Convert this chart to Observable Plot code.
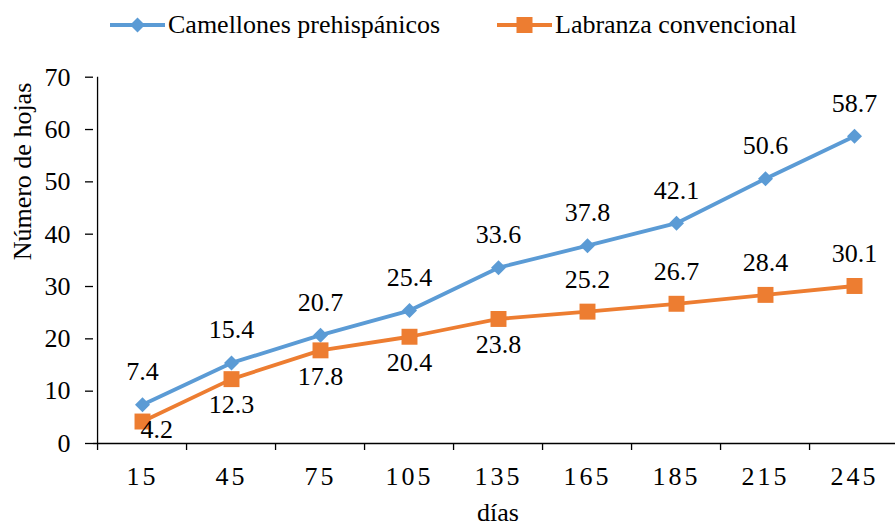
<!DOCTYPE html>
<html><head><meta charset="utf-8">
<script src="https://cdn.jsdelivr.net/npm/d3@7"></script>
<script src="https://cdn.jsdelivr.net/npm/@observablehq/plot@0.6"></script>
<style>
body{margin:0;background:#fff;font-family:"Liberation Serif","Times New Roman",serif;}
#legend{height:50px;position:relative;width:895px;}
.item{position:absolute;top:0;height:50px;display:flex;align-items:center;font-size:26px;color:#000;white-space:nowrap}
.item svg{display:block;margin-right:3px}
</style></head><body>
<div id="legend"></div><div id="chart"></div>
<script>
const days = ["15","45","75","105","135","165","185","215","245"];
const camellones = [7.4,15.4,20.7,25.4,33.6,37.8,42.1,50.6,58.7];
const labranza = [4.2,12.3,17.8,20.4,23.8,25.2,26.7,28.4,30.1];
const seriesNames = ["Camellones prehispánicos","Labranza convencional"];
const yTicks = [0,10,20,30,40,50,60,70];
const colors = ["#5B9BD5","#ED7D31"];
const symbols = ["diamond2","square"];
const xTitle = "días";
const yTitle = "Número de hojas";

// Legend
const legendPos = [110, 497];
const d3sym = {diamond2: d3.symbolDiamond2, square: d3.symbolSquare};
const symSize = {diamond2: 143, square: 256};
seriesNames.forEach((name,k)=>{
  const div = document.createElement("div");
  div.className = "item";
  div.style.left = legendPos[k] + "px";
  const path = d3.symbol(d3sym[symbols[k]], symSize[symbols[k]])();
  div.innerHTML = `<svg width="55" height="20"><line x1="0" x2="55" y1="10" y2="10" stroke="${colors[k]}" stroke-width="3.8"/><path transform="translate(27.5,10)" d="${path}" fill="${colors[k]}"/></svg><span>${name}</span>`;
  document.getElementById("legend").appendChild(div);
});

const rows = days.map((d,i)=>({day:d, i, cam:camellones[i], lab:labranza[i]}));
const W=895, H=475, L=93, T=26.7, B=82;
const step = (902-L)/days.length;
const font = '"Liberation Serif","Times New Roman",serif';

const chart = Plot.plot({
  width:W, height:H, marginLeft:L, marginRight:0, marginTop:T, marginBottom:B,
  style:{fontFamily:font, fontSize:"26px", color:"#000", background:"#fff", overflow:"visible"},
  x:{type:"point", domain:days, range:[L, L+step*days.length], padding:0.5},
  y:{domain:[0,70]},
  marks:[
    Plot.axisY({ticks:yTicks, tickSize:8, tickPadding:15, label:null, strokeWidth:1.3}),
    Plot.axisX({tickSize:0, tickPadding:23, label:null}),
    Plot.axisX({tickSize:7, tickFormat:()=>"", dx:-step/2, label:null, strokeWidth:1.3}),
    Plot.ruleY([0],{strokeWidth:1.3}),
    Plot.ruleX([days[0]],{dx:-step/2, strokeWidth:1.3}),
    Plot.line(rows,{x:"day", y:"cam", stroke:colors[0], strokeWidth:3.8}),
    Plot.line(rows,{x:"day", y:"lab", stroke:colors[1], strokeWidth:3.8}),
    Plot.dot(rows,{x:"day", y:"cam", symbol:symbols[0], r:6.75, fill:colors[0], stroke:null}),
    Plot.dot(rows,{x:"day", y:"lab", symbol:symbols[1], r:9, fill:colors[1], stroke:null}),
    Plot.text(rows,{x:"day", y:"cam", text:d=>d.cam.toFixed(1), dy:-33}),
    Plot.text(rows.filter(d=>d.i>=1 && d.i<=4),{x:"day", y:"lab", text:d=>d.lab.toFixed(1), dy:26}),
    Plot.text(rows.filter(d=>d.i>=5),{x:"day", y:"lab", text:d=>d.lab.toFixed(1), dy:-32}),
    Plot.text(rows.filter(d=>d.i===0),{x:"day", y:"lab", text:d=>d.lab.toFixed(1), textAnchor:"start", dx:-2, dy:8}),
    Plot.text([xTitle],{frameAnchor:"bottom", lineAnchor:"bottom", dy:77, dx:3.5}),
    Plot.text([yTitle],{frameAnchor:"left", rotate:-90, dx:-71})
  ]
});
chart.querySelectorAll('g[aria-label="x-axis tick label"] text').forEach(t=>t.style.letterSpacing="3px");
document.getElementById("chart").appendChild(chart);
</script>
</body></html>
